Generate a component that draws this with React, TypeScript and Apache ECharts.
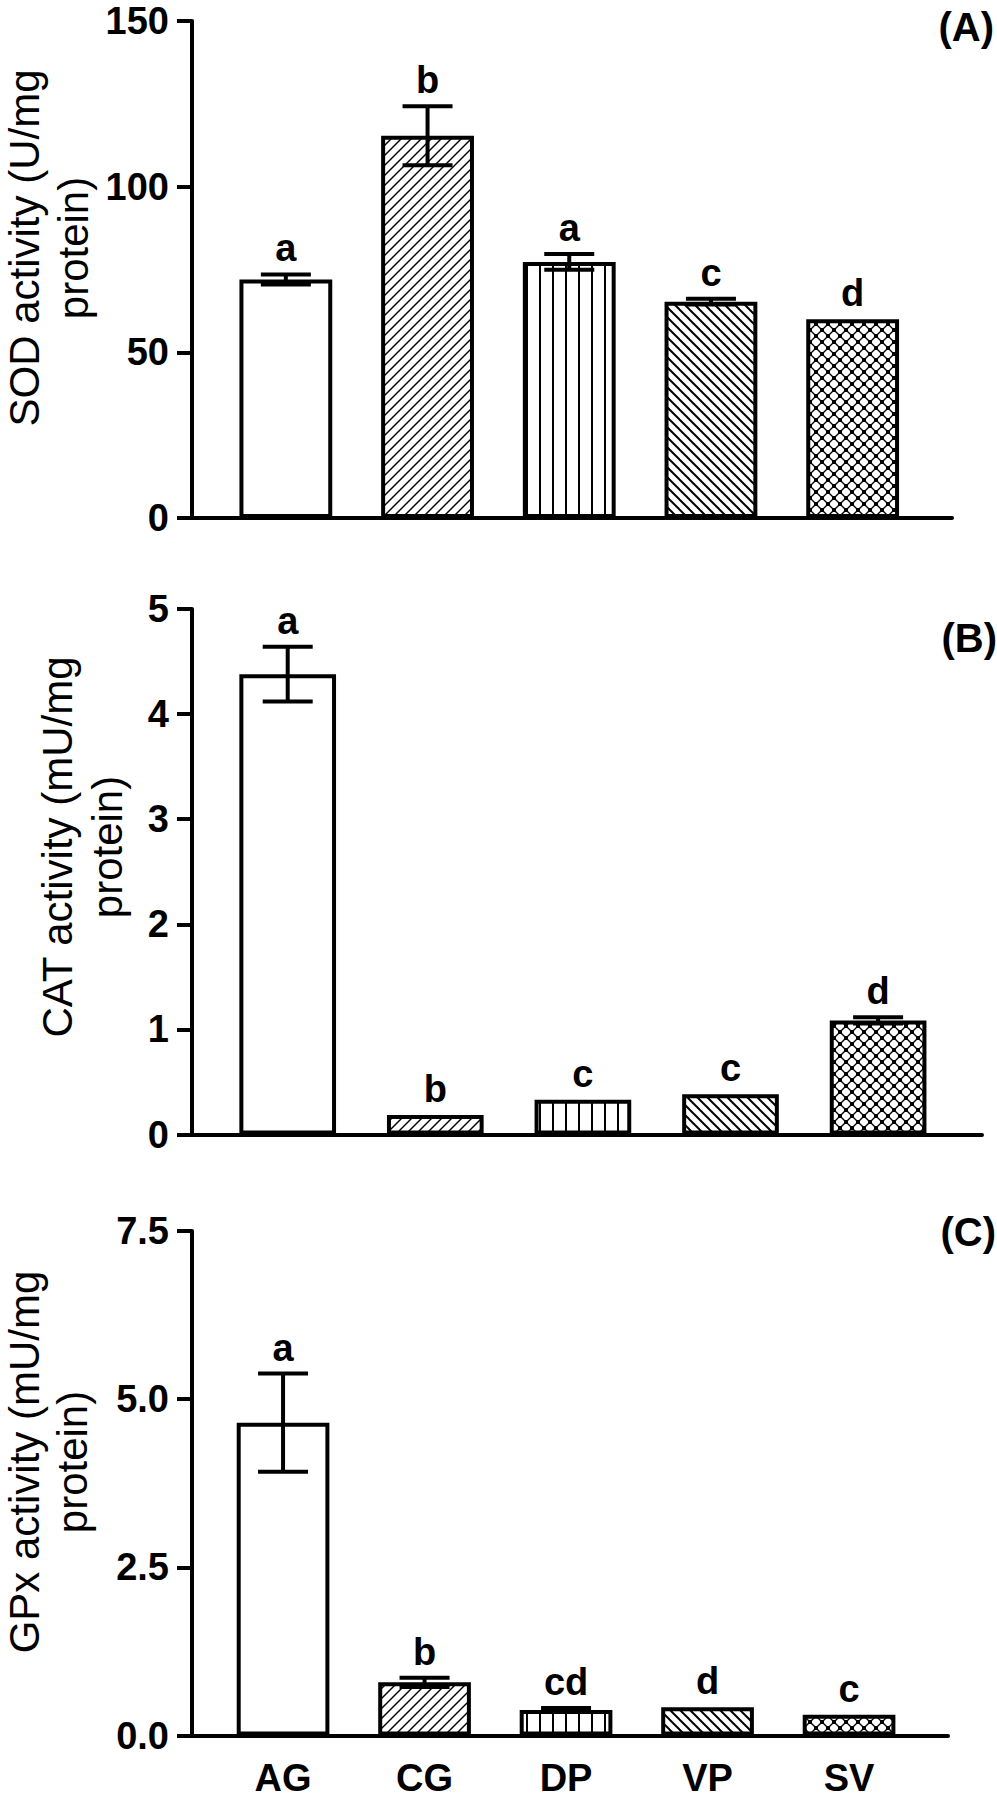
import React, { useEffect, useRef } from 'react';
import * as echarts from 'echarts';

// ---------------- data ----------------
const categories = ['AG', 'CG', 'DP', 'VP', 'SV'];

const sodValues = [72.0, 115.4, 77.3, 65.3, 60.0];
const sodErrors = [1.5, 8.9, 2.4, 0.9, 0];
const sodLetters = ['a', 'b', 'a', 'c', 'd'];
const sodTickLabels = ['0', '50', '100', '150'];

const catValues = [4.38, 0.186, 0.331, 0.382, 1.085];
const catErrors = [0.26, 0, 0, 0, 0.03];
const catLetters = ['a', 'b', 'c', 'c', 'd'];
const catTickLabels = ['0', '1', '2', '3', '4', '5'];

const gpxValues = [4.65, 0.79, 0.38, 0.42, 0.31];
const gpxErrors = [0.73, 0.07, 0.03, 0, 0];
const gpxLetters = ['a', 'b', 'cd', 'd', 'c'];
const gpxTickLabels = ['0.0', '2.5', '5.0', '7.5'];

const patternKinds = ['none', 'forward', 'vertical', 'backward', 'checker'];

// ---------------- layout ----------------
const FONT = '"Liberation Sans", Arial, Helvetica, sans-serif';

const panels = [
  {
    values: sodValues, errors: sodErrors, letters: sodLetters, ticks: sodTickLabels,
    title1: 'SOD activity (U/mg', title2: 'protein)', tag: '(A)',
    top: 21, height: 497, frameWidth: 760, barLeft: 215, barWidth: 708.5,
    title1X: 24.5, title2X: 73.5, titleY: 248, tagX: 994, tagY: 27, showX: false,
  },
  {
    values: catValues, errors: catErrors, letters: catLetters, ticks: catTickLabels,
    title1: 'CAT activity (mU/mg', title2: 'protein)', tag: '(B)',
    top: 609, height: 525.5, frameWidth: 790, barLeft: 213.9, barWidth: 738,
    title1X: 57, title2X: 107, titleY: 847, tagX: 997, tagY: 637.5, showX: false,
  },
  {
    values: gpxValues, errors: gpxErrors, letters: gpxLetters, ticks: gpxTickLabels,
    title1: 'GPx activity (mU/mg', title2: 'protein)', tag: '(C)',
    top: 1231, height: 504.5, frameWidth: 756, barLeft: 212.3, barWidth: 707.5,
    title1X: 24.5, title2X: 72.5, titleY: 1462, tagX: 996, tagY: 1231.5, showX: true,
  },
];

function makePattern(kind: string): any {
  if (kind === 'none') return '#ffffff';
  const c = document.createElement('canvas');
  let w = 10;
  let h = 10;
  if (kind === 'vertical') { w = 13; h = 4; }
  if (kind === 'checker') { w = 12; h = 12; }
  c.width = w;
  c.height = h;
  const ctx = c.getContext('2d') as CanvasRenderingContext2D;
  ctx.fillStyle = '#ffffff';
  ctx.fillRect(0, 0, w, h);
  ctx.strokeStyle = '#000000';
  ctx.fillStyle = '#000000';
  const seg = (x1: number, y1: number, x2: number, y2: number) => {
    ctx.beginPath();
    ctx.moveTo(x1, y1);
    ctx.lineTo(x2, y2);
    ctx.stroke();
  };
  if (kind === 'forward') {
    ctx.lineWidth = 1.4;
    seg(0, h, w, 0);
    seg(-w / 2, h / 2, w / 2, -h / 2);
    seg(w / 2, h * 1.5, w * 1.5, h / 2);
  } else if (kind === 'backward') {
    ctx.lineWidth = 2;
    seg(0, 0, w, h);
    seg(-w / 2, h / 2, w / 2, h * 1.5);
    seg(w / 2, -h / 2, w * 1.5, h / 2);
  } else if (kind === 'vertical') {
    ctx.fillRect(6, 0, 2, h);
  } else if (kind === 'checker') {
    ctx.lineWidth = 1.3;
    seg(0, 0, w, h);
    seg(w, 0, 0, h);
    const s = 4;
    ctx.fillRect(w / 2 - s / 2, h / 2 - s / 2, s, s);
    ctx.fillRect(-s / 2, -s / 2, s, s);
    ctx.fillRect(w - s / 2, -s / 2, s, s);
    ctx.fillRect(-s / 2, h - s / 2, s, s);
    ctx.fillRect(w - s / 2, h - s / 2, s, s);
  }
  return { image: c, repeat: 'repeat', imageWidth: w, imageHeight: h };
}

export default function App() {
  const ref = useRef<HTMLDivElement>(null);

  useEffect(() => {
    if (!ref.current) return;
    const chart = echarts.init(ref.current, undefined, { renderer: 'svg' });
    const patterns = patternKinds.map((k) => makePattern(k));

    const grid: any[] = [];
    const xAxis: any[] = [];
    const yAxis: any[] = [];
    const series: any[] = [];
    const elements: any[] = [];

    panels.forEach((p, pi) => {
      const tickNums = p.ticks.map((t) => parseFloat(t));
      const max = tickNums[tickNums.length - 1];
      const interval = tickNums[1] - tickNums[0];
      const fi = pi * 2;
      const bi = pi * 2 + 1;

      grid.push({ left: 192, top: p.top, width: p.frameWidth, height: p.height, containLabel: false });
      grid.push({ left: p.barLeft, top: p.top, width: p.barWidth, height: p.height, containLabel: false });

      xAxis.push({
        type: 'value', gridIndex: fi, min: 0, max: 1,
        axisLine: { show: true, onZero: true, lineStyle: { color: '#000', width: 4 } },
        axisTick: { show: false }, axisLabel: { show: false }, splitLine: { show: false },
      });
      xAxis.push({
        type: 'category', gridIndex: bi, data: categories,
        axisLine: { show: false }, axisTick: { show: false }, splitLine: { show: false },
        axisLabel: {
          show: p.showX, margin: 27, lineHeight: 30, color: '#000', fontSize: 38,
          fontWeight: 'bold', fontFamily: FONT,
        },
      });

      yAxis.push({
        type: 'value', gridIndex: fi, min: 0, max, interval,
        axisLine: { show: true, lineStyle: { color: '#000', width: 4 } },
        axisTick: { show: true, length: 15, lineStyle: { color: '#000', width: 4 } },
        axisLabel: {
          show: true, margin: 23, lineHeight: 30, color: '#000', fontSize: 38,
          fontWeight: 'bold', fontFamily: FONT,
          formatter: (v: number) => {
            const idx = tickNums.findIndex((t) => Math.abs(t - v) < 1e-9);
            return idx >= 0 ? p.ticks[idx] : '';
          },
        },
        splitLine: { show: false },
      });
      yAxis.push({ type: 'value', gridIndex: bi, min: 0, max, show: false, splitLine: { show: false } });

      series.push({
        type: 'bar', xAxisIndex: bi, yAxisIndex: bi, barWidth: '65.5%', silent: true,
        data: p.values.map((v, i) => ({
          value: v,
          itemStyle: { color: patterns[i], borderColor: '#000', borderWidth: 4 },
        })),
      });

      const letters = p.letters;
      series.push({
        type: 'custom', xAxisIndex: bi, yAxisIndex: bi, silent: true, z: 10,
        encode: { x: 0, y: 1 },
        data: p.values.map((v, i) => [i, v, p.errors[i]]),
        renderItem: (params: any, api: any) => {
          const i = api.value(0);
          const v = api.value(1);
          const e = api.value(2);
          const top = api.coord([i, v + e]);
          const bot = api.coord([i, v - e]);
          const hw = 25;
          const ls = { stroke: '#000', lineWidth: 4 };
          const children: any[] = [];
          if (e > 0) {
            children.push({ type: 'line', shape: { x1: top[0], y1: top[1], x2: bot[0], y2: bot[1] }, style: ls });
            children.push({ type: 'line', shape: { x1: top[0] - hw, y1: top[1], x2: top[0] + hw, y2: top[1] }, style: ls });
            children.push({ type: 'line', shape: { x1: bot[0] - hw, y1: bot[1], x2: bot[0] + hw, y2: bot[1] }, style: ls });
          }
          children.push({
            type: 'text', x: top[0], y: top[1] - 26,
            style: {
              text: letters[params.dataIndex], fill: '#000',
              font: `bold 38px ${FONT}`,
              textAlign: 'center', textVerticalAlign: 'middle', align: 'center', verticalAlign: 'middle',
            },
          });
          return { type: 'group', children };
        },
      });

      [[p.title1, p.title1X], [p.title2, p.title2X]].forEach(([txt, tx]) => {
        elements.push({
          type: 'text', x: tx, y: p.titleY, rotation: Math.PI / 2, silent: true,
          style: {
            text: txt, fill: '#000', font: `42px ${FONT}`, lineHeight: 36,
            textAlign: 'center', textVerticalAlign: 'middle', align: 'center', verticalAlign: 'middle',
          },
        });
      });
      elements.push({
        type: 'text', x: p.tagX, y: p.tagY, silent: true,
        style: {
          text: p.tag, fill: '#000', font: `bold 40px ${FONT}`, lineHeight: 40,
          textAlign: 'right', textVerticalAlign: 'middle', align: 'right', verticalAlign: 'middle',
        },
      });
    });

    chart.setOption({
      animation: false,
      backgroundColor: '#ffffff',
      grid, xAxis, yAxis, series,
      graphic: { elements },
    });

    return () => chart.dispose();
  }, []);

  return (
    <div
      ref={ref}
      style={{ position: 'absolute', left: 0, top: 0, width: 997, height: 1800, background: '#fff' }}
    />
  );
}
